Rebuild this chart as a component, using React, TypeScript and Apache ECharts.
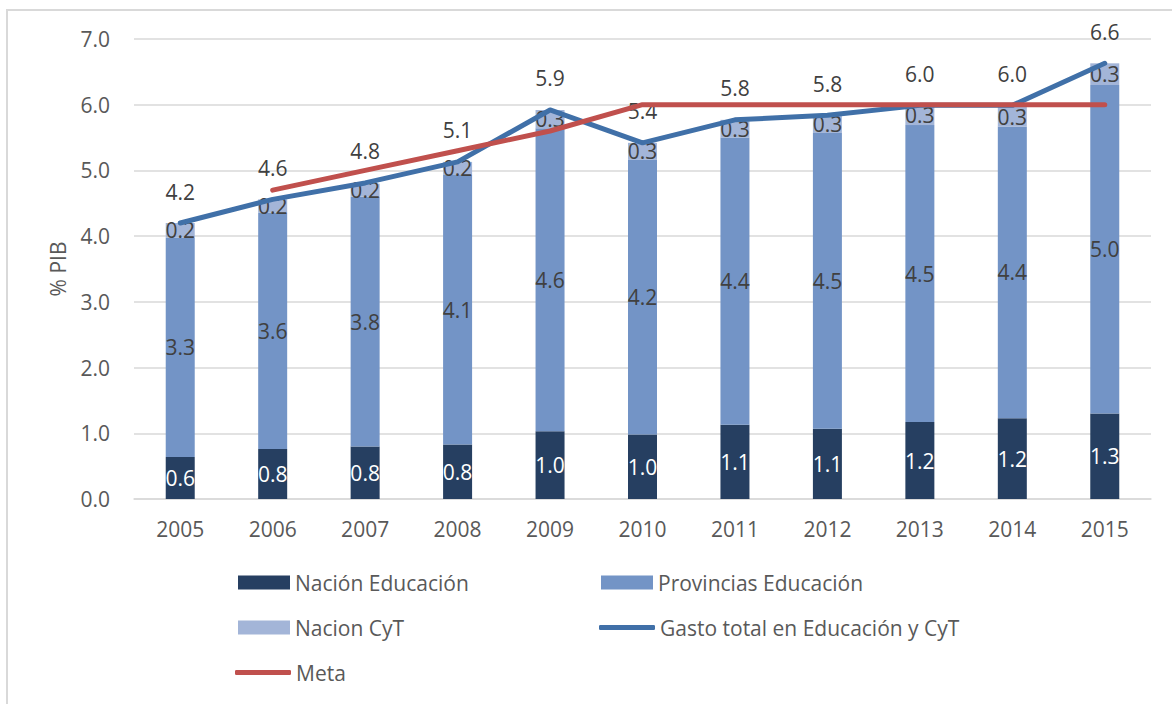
import React, { useEffect, useRef } from "react";
import * as echarts from "echarts";

const years = ["2005", "2006", "2007", "2008", "2009", "2010", "2011", "2012", "2013", "2014", "2015"];
const nacionEducacion = [0.64, 0.76, 0.8, 0.83, 1.03, 0.98, 1.13, 1.07, 1.17, 1.23, 1.3];
const provinciasEducacion = [3.34, 3.6, 3.8, 4.1, 4.61, 4.18, 4.37, 4.5, 4.52, 4.44, 5.0];
const nacionCyT = [0.22, 0.2, 0.2, 0.2, 0.28, 0.26, 0.27, 0.28, 0.3, 0.3, 0.33];
const gastoTotal = [4.2, 4.56, 4.81, 5.13, 5.92, 5.42, 5.77, 5.84, 5.99, 5.99, 6.63];
const meta: (number | string)[] = ["-", 4.7, 5.0, 5.3, 5.6, 6.0, 6.0, 6.0, 6.0, 6.0, 6.0];
const yTicks = { min: 0, max: 7, interval: 1 };

const FONT = "Open Sans";
const FS = 21;
const GRAY = "#595959";
const DARK = "#404040";
const C_NACION = "#263f61";
const C_PROV = "#7394c6";
const C_CYT = "#a3b5d8";
const C_TOTAL = "#4070a8";
const C_META = "#c0504d";

const fmt = (p: any) => (typeof p.value === "number" ? p.value.toFixed(1) : "");

export default function App() {
  const ref = useRef<HTMLDivElement>(null);
  useEffect(() => {
    if (!ref.current) return;
    const chart = echarts.init(ref.current, null, { renderer: "svg" });
    const legendText = { fontFamily: FONT, fontSize: FS, color: GRAY };
    const mkLegend = (name: string, left: number, top: number, isLine: boolean) => ({
      data: [name],
      left,
      top,
      padding: 0,
      icon: isLine ? "roundRect" : "rect",
      itemWidth: isLine ? 56 : 52,
      itemHeight: isLine ? 5 : 14,
      itemGap: 5,
      textStyle: legendText,
      selectedMode: false,
    });
    chart.setOption({
      animation: false,
      backgroundColor: "#ffffff",
      textStyle: { fontFamily: FONT },
      graphic: [
        {
          type: "rect",
          shape: { x: 7, y: 10, width: 1200, height: 740 },
          style: { fill: "none", stroke: "#d9d9d9", lineWidth: 2 },
          silent: true,
        },
      ],
      legend: [
        mkLegend("Nación Educación", 238, 572, false),
        mkLegend("Provincias Educación", 601, 572, false),
        mkLegend("Nacion CyT", 238, 617, false),
        mkLegend("Gasto total en Educación y CyT", 599, 617, true),
        mkLegend("Meta", 235, 662, true),
      ],
      grid: { left: 134, top: 39, width: 1017, height: 460, containLabel: false },
      xAxis: {
        type: "category",
        data: years,
        axisLine: { lineStyle: { color: "#d9d9d9", width: 1.5 } },
        axisTick: { show: false },
        axisLabel: { color: GRAY, fontSize: FS, fontFamily: FONT, margin: 19 },
      },
      yAxis: {
        type: "value",
        min: yTicks.min,
        max: yTicks.max,
        interval: yTicks.interval,
        name: "% PIB",
        nameLocation: "middle",
        nameGap: 66,
        nameTextStyle: { color: GRAY, fontSize: FS, fontFamily: FONT },
        axisLine: { show: false },
        axisTick: { show: false },
        splitLine: { lineStyle: { color: "#d9d9d9", width: 1.5 } },
        axisLabel: {
          color: GRAY,
          fontSize: FS,
          fontFamily: FONT,
          margin: 24,
          formatter: (v: number) => v.toFixed(1),
        },
      },
      series: [
        {
          name: "Nación Educación",
          type: "bar",
          stack: "a",
          barWidth: 29,
          data: nacionEducacion,
          itemStyle: { color: C_NACION },
          label: { show: true, position: "inside", color: "#ffffff", fontSize: FS, fontFamily: FONT, formatter: fmt },
        },
        {
          name: "Provincias Educación",
          type: "bar",
          stack: "a",
          barWidth: 29,
          data: provinciasEducacion,
          itemStyle: { color: C_PROV },
          label: { show: true, position: "inside", color: DARK, fontSize: FS, fontFamily: FONT, formatter: fmt },
        },
        {
          name: "Nacion CyT",
          type: "bar",
          stack: "a",
          barWidth: 29,
          data: nacionCyT,
          itemStyle: { color: C_CYT },
          label: { show: true, position: "inside", color: DARK, fontSize: FS, fontFamily: FONT, formatter: fmt },
        },
        {
          name: "Gasto total en Educación y CyT",
          type: "line",
          data: gastoTotal,
          symbol: "circle",
          symbolSize: 2,
          showSymbol: true,
          itemStyle: { color: C_TOTAL },
          lineStyle: { color: C_TOTAL, width: 5, cap: "round", join: "round" },
          label: { show: true, position: "top", distance: 20, color: DARK, fontSize: FS, fontFamily: FONT, formatter: fmt },
          labelLayout: { hideOverlap: false },
          z: 3,
        },
        {
          name: "Meta",
          type: "line",
          data: meta,
          symbol: "none",
          itemStyle: { color: C_META },
          lineStyle: { color: C_META, width: 5, cap: "round", join: "round" },
          z: 4,
        },
      ],
    });
    return () => chart.dispose();
  }, []);
  return (
    <div
      ref={ref}
      style={{ position: "fixed", left: 0, top: 0, width: 1172, height: 704, background: "#fff" }}
    />
  );
}
